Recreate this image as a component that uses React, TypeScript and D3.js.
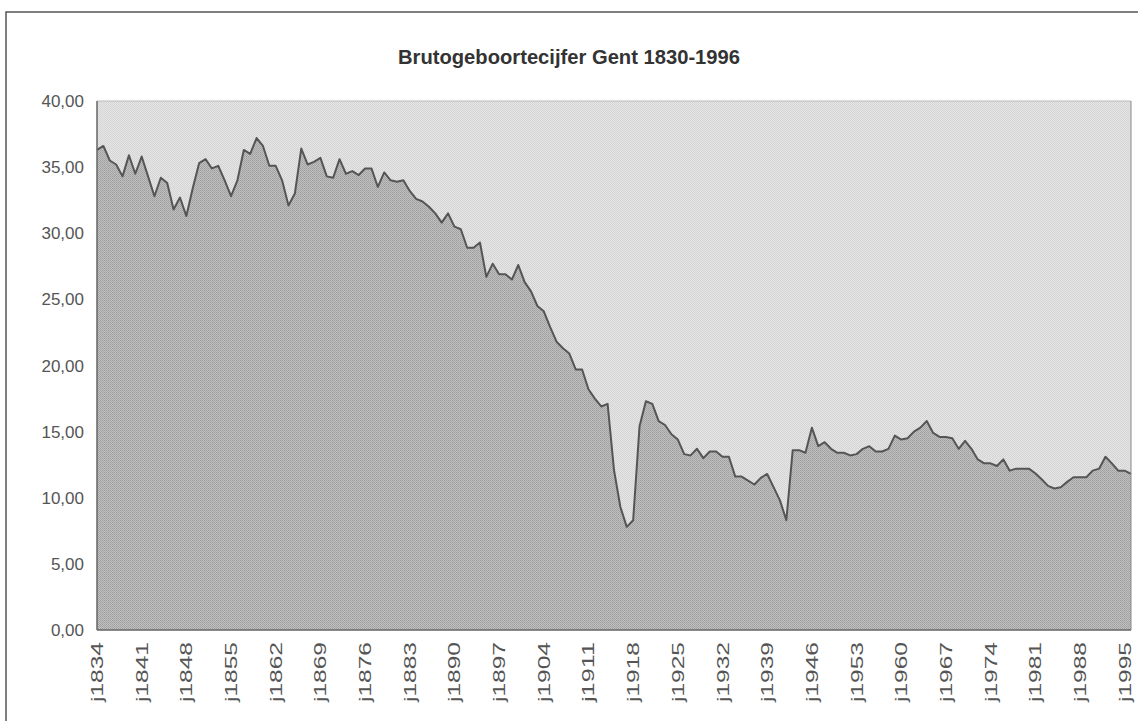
import React from 'react';
import * as d3 from 'd3';

const firstYear = 1834;
const birthRate = [
  36.3, 36.6, 35.5, 35.2, 34.3, 35.9, 34.5, 35.8, 34.3, 32.8,
  34.2, 33.8, 31.8, 32.7, 31.3, 33.4, 35.3, 35.6, 34.9, 35.1,
  34.0, 32.8, 34.0, 36.3, 36.0, 37.2, 36.6, 35.1, 35.1, 34.0,
  32.1, 33.0, 36.4, 35.2, 35.4, 35.7, 34.3, 34.2, 35.6, 34.5,
  34.7, 34.4, 34.9, 34.9, 33.5, 34.6, 34.0, 33.9, 34.0, 33.2,
  32.6, 32.4, 32.0, 31.5, 30.8, 31.5, 30.5, 30.3, 28.9, 28.9,
  29.3, 26.7, 27.7, 26.9, 26.9, 26.5, 27.6, 26.3, 25.6, 24.5,
  24.1, 22.9, 21.8, 21.3, 20.9, 19.7, 19.7, 18.2, 17.5, 16.9,
  17.1, 12.1, 9.3, 7.8, 8.3, 15.4, 17.3, 17.1, 15.8, 15.5,
  14.8, 14.4, 13.3, 13.2, 13.7, 13.0, 13.5, 13.5, 13.1, 13.1,
  11.6, 11.6, 11.3, 11.0, 11.5, 11.8, 10.8, 9.8, 8.3, 13.6,
  13.6, 13.4, 15.3, 13.9, 14.2, 13.7, 13.4, 13.4, 13.2, 13.3,
  13.7, 13.9, 13.5, 13.5, 13.7, 14.7, 14.4, 14.5, 15.0, 15.3,
  15.8, 14.9, 14.6, 14.6, 14.5, 13.7, 14.3, 13.7, 12.9, 12.6,
  12.6, 12.4, 12.9, 12.05, 12.2, 12.2, 12.2, 11.85, 11.4, 10.9,
  10.7, 10.8, 11.2, 11.55, 11.55, 11.55, 12.05, 12.2, 13.1, 12.6,
  12.05, 12.05, 11.8,
];
const tickYears = [
  1834, 1841, 1848, 1855, 1862, 1869, 1876, 1883, 1890, 1897, 1904, 1911,
  1918, 1925, 1932, 1939, 1946, 1953, 1960, 1967, 1974, 1981, 1988, 1995,
];
const yTicks = [0, 5, 10, 15, 20, 25, 30, 35, 40];
const title = 'Brutogeboortecijfer Gent 1830-1996';

const data = birthRate.map((v, i) => ({ year: firstYear + i, value: v }));

export default function App() {
  const W = 1138, H = 721;
  const left = 97, right = 1131, top = 101, bottom = 630;

  const x = d3.scaleLinear()
    .domain([firstYear, firstYear + birthRate.length - 1])
    .range([left, right]);
  const y = d3.scaleLinear().domain([0, 40]).range([bottom, top]);

  const area = d3.area<{ year: number; value: number }>()
    .x(d => x(d.year))
    .y0(y(0))
    .y1(d => y(d.value));
  const line = d3.line<{ year: number; value: number }>()
    .x(d => x(d.year))
    .y(d => y(d.value));

  const fmt = (v: number) => v.toFixed(2).replace('.', ',');
  const font = '"Liberation Sans", Arial, Helvetica, sans-serif';

  return (
    <svg width={W} height={H} style={{ position: 'absolute', left: 0, top: 0, background: '#fff' }}>
      <defs>
        <pattern id="bgDots" width="2" height="2" patternUnits="userSpaceOnUse">
          <rect width="2" height="2" fill="#e6e6e6" />
          <rect width="1" height="1" fill="#d2d2d2" />
          <rect x="1" y="1" width="1" height="1" fill="#d6d6d6" />
        </pattern>
        <pattern id="areaDots" width="2" height="2" patternUnits="userSpaceOnUse">
          <rect width="2" height="2" fill="#c0c0c0" />
          <rect width="1" height="1" fill="#9e9e9e" />
          <rect x="1" y="1" width="1" height="1" fill="#a6a6a6" />
        </pattern>
      </defs>

      {/* outer frame */}
      <rect x={6} y={12} width={W + 10} height={H + 10} fill="none" stroke="#555" strokeWidth={1.5} />

      <text x={569} y={64} textAnchor="middle" fontFamily={font} fontWeight="bold"
        fontSize={20} fill="#333" textLength={342} lengthAdjust="spacingAndGlyphs">
        {title}
      </text>

      {/* plot background */}
      <rect x={left} y={top} width={right - left} height={bottom - top} fill="url(#bgDots)" />
      <path d={area(data) || ''} fill="url(#areaDots)" />
      <path d={line(data) || ''} fill="none" stroke="#555" strokeWidth={2} strokeLinejoin="round" />

      {/* axes */}
      <line x1={left} y1={top} x2={right} y2={top} stroke="#bbb" strokeWidth={1} />
      <line x1={right} y1={top} x2={right} y2={bottom} stroke="#888" strokeWidth={1} />
      <line x1={left} y1={top} x2={left} y2={bottom} stroke="#666" strokeWidth={1.5} />
      <line x1={left} y1={bottom} x2={right} y2={bottom} stroke="#666" strokeWidth={1.5} />

      {yTicks.map(t => (
        <text key={t} x={84} y={y(t) + 6} textAnchor="end" fontFamily={font}
          fontSize={17} fill="#555">
          {fmt(t)}
        </text>
      ))}

      {tickYears.map(yr => (
        <text key={yr} transform={`translate(${x(yr) + 6},${642}) rotate(-90)`}
          textAnchor="end" fontFamily={font} fontSize={17} fill="#555"
          textLength={60} lengthAdjust="spacingAndGlyphs">
          {'j' + yr}
        </text>
      ))}
    </svg>
  );
}
